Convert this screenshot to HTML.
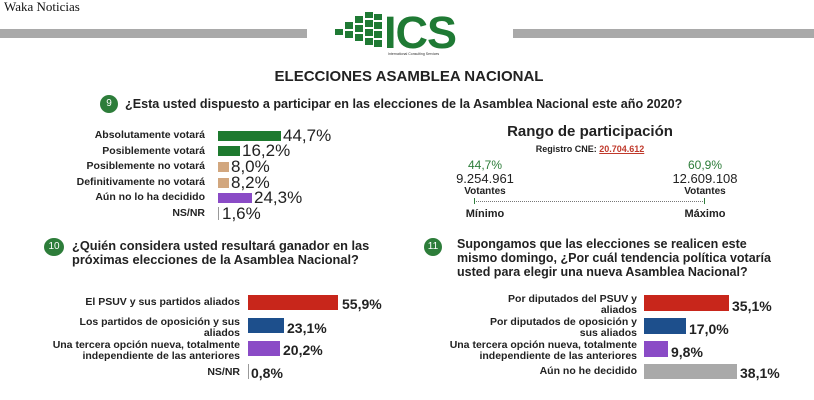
<!DOCTYPE html>
<html><head><meta charset="utf-8"><style>
*{margin:0;padding:0;box-sizing:border-box}
body{width:814px;height:400px;background:#fff;position:relative;overflow:hidden;font-family:"Liberation Sans",Arial,sans-serif;color:#222}
.a{position:absolute;white-space:nowrap}
.b{font-weight:bold}
.lab{position:absolute;text-align:right;font-weight:bold;font-size:10.5px;line-height:11px;color:#222;white-space:nowrap}
.bar{position:absolute}
.pct{position:absolute;font-size:17px;line-height:16px;color:#222;white-space:nowrap}
.pc2{position:absolute;font-size:14px;font-weight:bold;line-height:14px;color:#222;white-space:nowrap}
.circ{position:absolute;width:18px;height:18px;border-radius:50%;background:#2d7d3a;color:#fff;font-size:10px;text-align:center;line-height:18px}
</style></head><body>
<div class="a" style="left:4px;top:-1px;font-family:'Liberation Serif',serif;font-size:13px;color:#111">Waka Noticias</div>
<div class="a" style="left:0;top:29px;width:307px;height:9px;background:#a9a9a9"></div>
<div class="a" style="left:513px;top:29px;width:301px;height:9px;background:#a9a9a9"></div>
<svg class="a" style="left:335px;top:12px" width="48" height="40" viewBox="0 0 48 40">
<g fill="#1f7a34">
<rect x="30" y="0" width="8" height="6"/><rect x="39" y="2" width="8" height="6"/>
<rect x="20" y="4" width="8" height="7"/><rect x="30" y="8" width="8" height="7"/><rect x="39" y="10" width="8" height="7"/>
<rect x="10" y="10" width="8" height="7"/><rect x="20" y="13" width="8" height="7"/><rect x="30" y="17" width="8" height="7"/><rect x="39" y="19" width="8" height="7"/>
<rect x="0" y="17" width="8" height="6"/><rect x="10" y="19" width="8" height="7"/><rect x="20" y="22" width="8" height="7"/><rect x="30" y="26" width="8" height="7"/><rect x="39" y="28" width="8" height="7"/>
</g></svg>
<div class="a b" style="left:384px;top:10px;font-size:45px;line-height:45px;color:#1f7a34;letter-spacing:-1px">ICS</div>
<div class="a" style="left:388px;top:52px;font-size:3.5px;color:#333">International Consulting Services</div>
<div class="a b" style="left:258px;top:69px;width:302px;text-align:center;font-size:15px;line-height:16px;color:#222">ELECCIONES ASAMBLEA NACIONAL</div>

<div class="circ" style="left:100px;top:95px">9</div>
<div class="a b" style="left:125px;top:97px;font-size:12.6px;line-height:14px">¿Esta usted dispuesto a participar en las elecciones de la Asamblea Nacional este año 2020?</div>

<div class="lab" style="left:20px;width:185px;top:130px">Absolutamente votará</div>
<div class="bar" style="left:218px;top:131px;width:63px;height:10px;background:#1e7a2f"></div>
<div class="pct" style="left:283px;top:128px">44,7%</div>
<div class="lab" style="left:20px;width:185px;top:146px">Posiblemente votará</div>
<div class="bar" style="left:218px;top:146px;width:22px;height:10px;background:#1e7a2f"></div>
<div class="pct" style="left:242px;top:143px">16,2%</div>
<div class="lab" style="left:20px;width:185px;top:161px">Posiblemente no votará</div>
<div class="bar" style="left:218px;top:162px;width:11px;height:10px;background:#d2a77f"></div>
<div class="pct" style="left:231px;top:159px">8,0%</div>
<div class="lab" style="left:20px;width:185px;top:177px">Definitivamente no votará</div>
<div class="bar" style="left:218px;top:178px;width:11px;height:10px;background:#d2a77f"></div>
<div class="pct" style="left:231px;top:175px">8,2%</div>
<div class="lab" style="left:20px;width:185px;top:192px">Aún no lo ha decidido</div>
<div class="bar" style="left:218px;top:193px;width:34px;height:10px;background:#8a4bc6"></div>
<div class="pct" style="left:254px;top:190px">24,3%</div>
<div class="lab" style="left:20px;width:185px;top:208px">NS/NR</div>
<div class="bar" style="left:218px;top:207px;width:1px;height:13px;background:#999"></div>
<div class="pct" style="left:222px;top:206px">1,6%</div>

<div class="a b" style="left:490px;top:123px;width:200px;text-align:center;font-size:15px;line-height:17px">Rango de participación</div>
<div class="a b" style="left:490px;top:144px;width:200px;text-align:center;font-size:9px;line-height:10px">Registro CNE: <span style="color:#c0392b;text-decoration:underline">20.704.612</span></div>
<div class="a" style="left:445px;top:158px;width:80px;text-align:center;font-size:12px;color:#2d7d3a">44,7%</div>
<div class="a" style="left:445px;top:171px;width:80px;text-align:center;font-size:13px">9.254.961</div>
<div class="a b" style="left:445px;top:186px;width:80px;text-align:center;font-size:10px">Votantes</div>
<div class="a" style="left:665px;top:158px;width:80px;text-align:center;font-size:12px;color:#2d7d3a">60,9%</div>
<div class="a" style="left:665px;top:171px;width:80px;text-align:center;font-size:13px">12.609.108</div>
<div class="a b" style="left:665px;top:186px;width:80px;text-align:center;font-size:10px">Votantes</div>
<div class="a" style="left:474px;top:201px;width:231px;border-top:1px dotted #777"></div>
<div class="a" style="left:474px;top:198px;width:1px;height:6px;background:#2d7d3a"></div>
<div class="a" style="left:704px;top:198px;width:1px;height:6px;background:#2d7d3a"></div>
<div class="a b" style="left:445px;top:208px;width:80px;text-align:center;font-size:11px">Mínimo</div>
<div class="a b" style="left:665px;top:208px;width:80px;text-align:center;font-size:11px">Máximo</div>

<div class="circ" style="left:44px;top:238px;width:20px">10</div>
<div class="a b" style="left:72px;top:239px;font-size:12.8px;line-height:14px">¿Quién considera usted resultará ganador en las<br>próximas elecciones de la Asamblea Nacional?</div>
<div class="circ" style="left:424px;top:238px">11</div>
<div class="a b" style="left:457px;top:237px;font-size:12.5px;line-height:14px">Supongamos que las elecciones se realicen este<br>mismo domingo, ¿Por cuál tendencia política votaría<br>usted para elegir una nueva Asamblea Nacional?</div>

<div class="lab" style="left:40px;width:200px;top:297px">El PSUV y sus partidos aliados</div>
<div class="bar" style="left:248px;top:295px;width:90px;height:15px;background:#c8261b"></div>
<div class="pc2" style="left:342px;top:297px">55,9%</div>
<div class="lab" style="left:40px;width:200px;top:317px">Los partidos de oposición y sus<br>aliados</div>
<div class="bar" style="left:248px;top:318px;width:36px;height:15px;background:#1d4f8c"></div>
<div class="pc2" style="left:287px;top:321px">23,1%</div>
<div class="lab" style="left:40px;width:200px;top:340px">Una tercera opción nueva, totalmente<br>independiente de las anteriores</div>
<div class="bar" style="left:248px;top:341px;width:32px;height:15px;background:#8a4bc6"></div>
<div class="pc2" style="left:283px;top:343px">20,2%</div>
<div class="lab" style="left:40px;width:200px;top:367px">NS/NR</div>
<div class="bar" style="left:248px;top:364px;width:1px;height:15px;background:#999"></div>
<div class="pc2" style="left:251px;top:366px">0,8%</div>

<div class="lab" style="left:437px;width:200px;top:294px">Por diputados del PSUV y<br>aliados</div>
<div class="bar" style="left:644px;top:295px;width:85px;height:16px;background:#c8261b"></div>
<div class="pc2" style="left:732px;top:299px">35,1%</div>
<div class="lab" style="left:437px;width:200px;top:317px">Por diputados de oposición y<br>sus aliados</div>
<div class="bar" style="left:644px;top:318px;width:42px;height:16px;background:#1d4f8c"></div>
<div class="pc2" style="left:689px;top:322px">17,0%</div>
<div class="lab" style="left:437px;width:200px;top:340px">Una tercera opción nueva, totalmente<br>independiente de las anteriores</div>
<div class="bar" style="left:644px;top:341px;width:24px;height:16px;background:#8a4bc6"></div>
<div class="pc2" style="left:671px;top:345px">9,8%</div>
<div class="lab" style="left:437px;width:200px;top:366px">Aún no he decidido</div>
<div class="bar" style="left:644px;top:364px;width:93px;height:15px;background:#a9a9a9"></div>
<div class="pc2" style="left:740px;top:366px">38,1%</div>
</body></html>
